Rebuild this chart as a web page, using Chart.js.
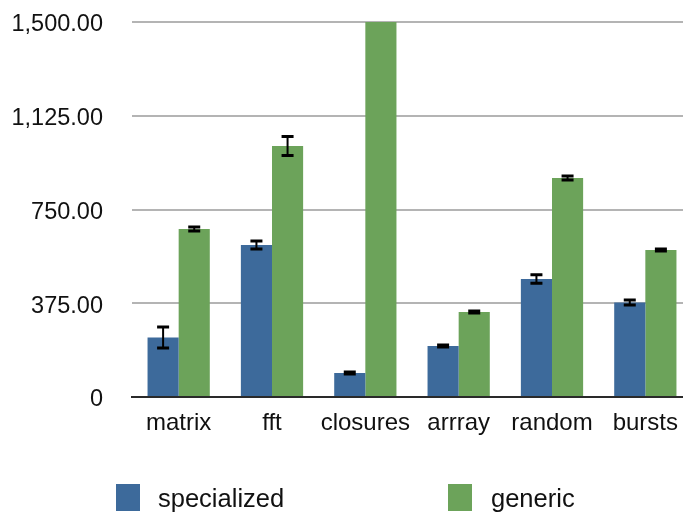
<!DOCTYPE html>
<html>
<head>
<meta charset="utf-8">
<script src="https://cdn.jsdelivr.net/npm/chart.js@4"></script>
<style>
  html, body { margin: 0; padding: 0; background: #fff; overflow: hidden; width: 683px; height: 513px; }
  #wrap { position: absolute; left: 0; top: 0; width: 692px; height: 513px; }
  .lg-box { position: absolute; width: 24px; height: 27px; top: 484px; }
  .lg-text { position: absolute; top: 483px; font-family: "Liberation Sans", Arial, sans-serif; font-size: 25.5px; line-height: 30px; color: #111; white-space: nowrap; }
</style>
</head>
<body>
<div id="wrap"><canvas id="c"></canvas></div>
<div class="lg-box" style="left:116px;background:#3d6a9b"></div>
<div class="lg-text" style="left:158px">specialized</div>
<div class="lg-box" style="left:448px;background:#6ca35a"></div>
<div class="lg-text" style="left:491px">generic</div>
<script>
const categories = ['matrix', 'fft', 'closures', 'arrray', 'random', 'bursts'];
const specialized = [238, 608, 96, 204, 472, 378];
const specializedErr = [42, 16, 4, 4, 17, 10];
const generic = [672, 1004, 1500, 340, 876, 588];
const genericErr = [8, 38, 0, 4, 8, 4];
const yTickValues = [0, 375, 750, 1125, 1500];
const yTickLabels = ['0', '375.00', '750.00', '1,125.00', '1,500.00'];

const errors = [specializedErr, genericErr];

const errorBarPlugin = {
  id: 'errorBars',
  afterDatasetsDraw(chart) {
    const ctx = chart.ctx;
    const yScale = chart.scales.y;
    ctx.save();
    ctx.strokeStyle = '#000';
    chart.data.datasets.forEach((ds, di) => {
      const meta = chart.getDatasetMeta(di);
      const errs = errors[di];
      meta.data.forEach((bar, i) => {
        const e = errs[i];
        if (!e) return;
        const v = ds.data[i];
        const yTop = yScale.getPixelForValue(v + e);
        const yBot = yScale.getPixelForValue(v - e);
        const x = bar.x;
        ctx.lineWidth = 2;
        ctx.beginPath();
        ctx.moveTo(x, yTop);
        ctx.lineTo(x, yBot);
        ctx.stroke();
        ctx.lineWidth = 3;
        ctx.beginPath();
        ctx.moveTo(x - 6, yTop);
        ctx.lineTo(x + 6, yTop);
        ctx.moveTo(x - 6, yBot);
        ctx.lineTo(x + 6, yBot);
        ctx.stroke();
      });
    });
    ctx.restore();
  }
};

new Chart(document.getElementById('c'), {
  type: 'bar',
  data: {
    labels: categories,
    datasets: [
      { label: 'specialized', data: specialized, backgroundColor: '#3d6a9b', borderWidth: 0 },
      { label: 'generic', data: generic, backgroundColor: '#6ca35a', borderWidth: 0 }
    ]
  },
  options: {
    responsive: true,
    maintainAspectRatio: false,
    animation: false,
    layout: { padding: { top: 22, right: 0, bottom: 0, left: 0 } },
    plugins: { legend: { display: false }, tooltip: { enabled: false } },
    datasets: { bar: { categoryPercentage: 0.667, barPercentage: 1.0 } },
    scales: {
      x: {
        grid: { display: false },
        border: { display: true, color: '#2a2a2a', width: 2 },
        ticks: { color: '#111', font: { family: '"Liberation Sans", Arial, sans-serif', size: 24 }, padding: 4, maxRotation: 0 },
        afterFit(scale) { scale.height = 116; scale.paddingLeft = 0; scale.paddingRight = 0; }
      },
      y: {
        min: 0,
        max: 1500,
        afterBuildTicks(scale) { scale.ticks = yTickValues.map(v => ({ value: v })); },
        grid: {
          drawTicks: false,
          lineWidth: 2,
          color: (c) => (c.tick && c.tick.value === 0) ? 'rgba(0,0,0,0)' : '#b4b4b4'
        },
        border: { display: false },
        ticks: {
          color: '#111',
          padding: 29,
          labelOffset: 3,
          font: { family: '"Liberation Sans", Arial, sans-serif', size: 23.5 },
          callback: (v, i) => yTickLabels[i]
        },
        afterFit(scale) { scale.width = 132; scale.paddingTop = 0; scale.paddingBottom = 0; }
      }
    }
  },
  plugins: [errorBarPlugin]
});
</script>
</body>
</html>
